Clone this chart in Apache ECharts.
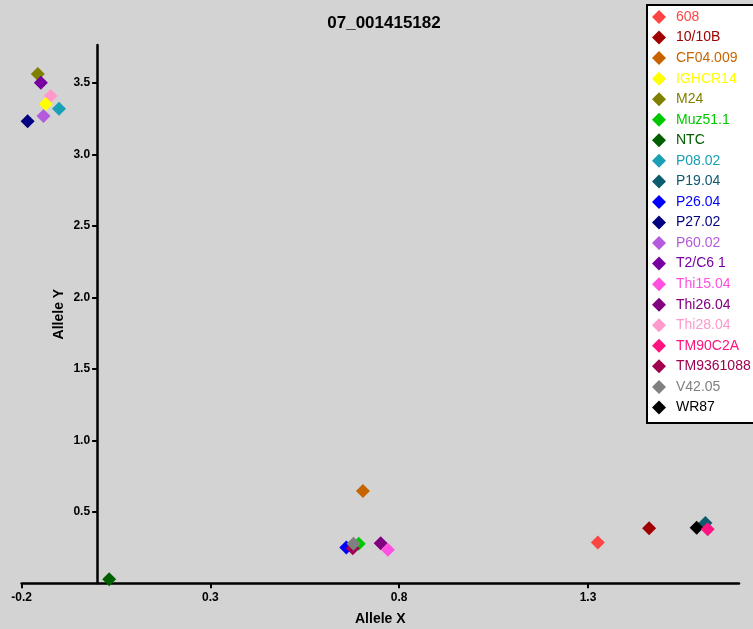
<!DOCTYPE html>
<html>
<head>
<meta charset="utf-8">
<script src="https://cdn.jsdelivr.net/npm/echarts@6/dist/echarts.min.js"></script>
<style>html,body{margin:0;padding:0;background:#d3d3d3;}#c{width:753px;height:629px;}</style>
</head>
<body>
<div id="c"></div>
<script>
var names = ['608','10/10B','CF04.009','IGHCR14','M24','Muz51.1','NTC','P08.02','P19.04','P26.04','P27.02','P60.02','T2/C6 1','Thi15.04','Thi26.04','Thi28.04','TM90C2A','TM9361088','V42.05','WR87'];
var alleleX = [1.326,1.462,0.704,-0.136,-0.157,0.693,0.032,-0.101,1.611,0.660,-0.184,-0.142,-0.149,0.770,0.751,-0.123,1.617,0.677,0.679,1.588];
var alleleY = [0.285,0.386,0.645,3.353,3.563,0.276,0.028,3.320,0.421,0.250,3.232,3.269,3.502,0.234,0.281,3.409,0.379,0.246,0.276,0.388];
var colors = ['#ff4444','#a00000','#c86400','#ffff00','#808000','#00c800','#006000','#1aa0b4','#0e5a6e','#0000ff','#000080','#b45adc','#7800a0','#ff50e0','#800080','#ff99cc','#ff1480','#a00050','#808080','#000000'];
var xTicks = [-0.2,0.3,0.8,1.3];
var yTicks = [0.5,1.0,1.5,2.0,2.5,3.0,3.5];
var onTop = ['IGHCR14','Thi15.04','TM90C2A'];

var gridLeft = 21.6, gridRight = 14;
var xMin = -0.2, xMax = 1.7;
var plotW = 753 - gridLeft - gridRight;
var yAxisOffset = -plotW * (0 - xMin) / (xMax - xMin);

var chart = echarts.init(document.getElementById('c'));
var font = 'Arial, "Liberation Sans", sans-serif';
var series = names.map(function(n,i){
  return {
    name: n, type: 'scatter', symbol: 'diamond', symbolSize: 14,
    z: onTop.indexOf(n) >= 0 ? 3 : 2,
    itemStyle: {color: colors[i], opacity: 1},
    data: [[alleleX[i], alleleY[i]]],
    emphasis: {disabled: true}
  };
});
chart.setOption({
  backgroundColor: '#d3d3d3',
  animation: false,
  title: {
    text: '07_001415182', left: 379, top: 10, textAlign: 'center',
    textStyle: {fontFamily: font, fontSize: 17, fontWeight: 'bold', color: '#000'}
  },
  graphic: [{
    type: 'rect', left: 646, top: 4, z: 0,
    shape: {width: 130, height: 418},
    style: {fill: '#ffffff', stroke: '#000000', lineWidth: 2}
  }],
  legend: {
    orient: 'vertical', left: 646, top: 4,
    itemWidth: 14, itemHeight: 14, itemGap: 6.55,
    padding: [6, 10, 7, 6],
    icon: 'diamond',
    itemStyle: {opacity: 1},
    data: names.map(function(n,i){ return {name: n, itemStyle: {color: colors[i], opacity: 1}, textStyle: {color: colors[i]}}; }),
    textStyle: {fontFamily: font, fontSize: 14, padding: [0,0,0,5]}
  },
  grid: {left: gridLeft, right: gridRight, top: 45, bottom: 45.7, containLabel: false, outerBoundsMode: 'none'},
  xAxis: {
    type: 'value', min: xMin, max: xMax,
    name: 'Allele X', nameLocation: 'middle', nameGap: 29, nameMoveOverlap: false,
    nameTextStyle: {fontFamily: font, fontSize: 14, fontWeight: 'bold', color: '#000'},
    axisLine: {onZero: false, lineStyle: {color: '#000', width: 2.5}},
    axisTick: {show: true, length: 5, lineStyle: {color: '#000', width: 2}, customValues: xTicks},
    axisLabel: {customValues: xTicks, margin: 8, fontFamily: font, fontSize: 12, fontWeight: 'bold', color: '#000',
      formatter: function(v){ return (Math.round(v*10)/10).toFixed(1); }},
    splitLine: {show: false}
  },
  yAxis: {
    type: 'value', min: 0, max: 3.766, offset: yAxisOffset,
    name: 'Allele Y', nameLocation: 'middle', nameGap: 31, nameMoveOverlap: false,
    nameTextStyle: {fontFamily: font, fontSize: 14, fontWeight: 'bold', color: '#000'},
    axisLine: {onZero: false, lineStyle: {color: '#000', width: 2.5}},
    axisTick: {show: true, length: 5, lineStyle: {color: '#000', width: 2}, customValues: yTicks},
    axisLabel: {customValues: yTicks, margin: 7, fontFamily: font, fontSize: 12, fontWeight: 'bold', color: '#000',
      formatter: function(v){ return v.toFixed(1); }},
    splitLine: {show: false}
  },
  series: series
});
</script>
</body>
</html>
